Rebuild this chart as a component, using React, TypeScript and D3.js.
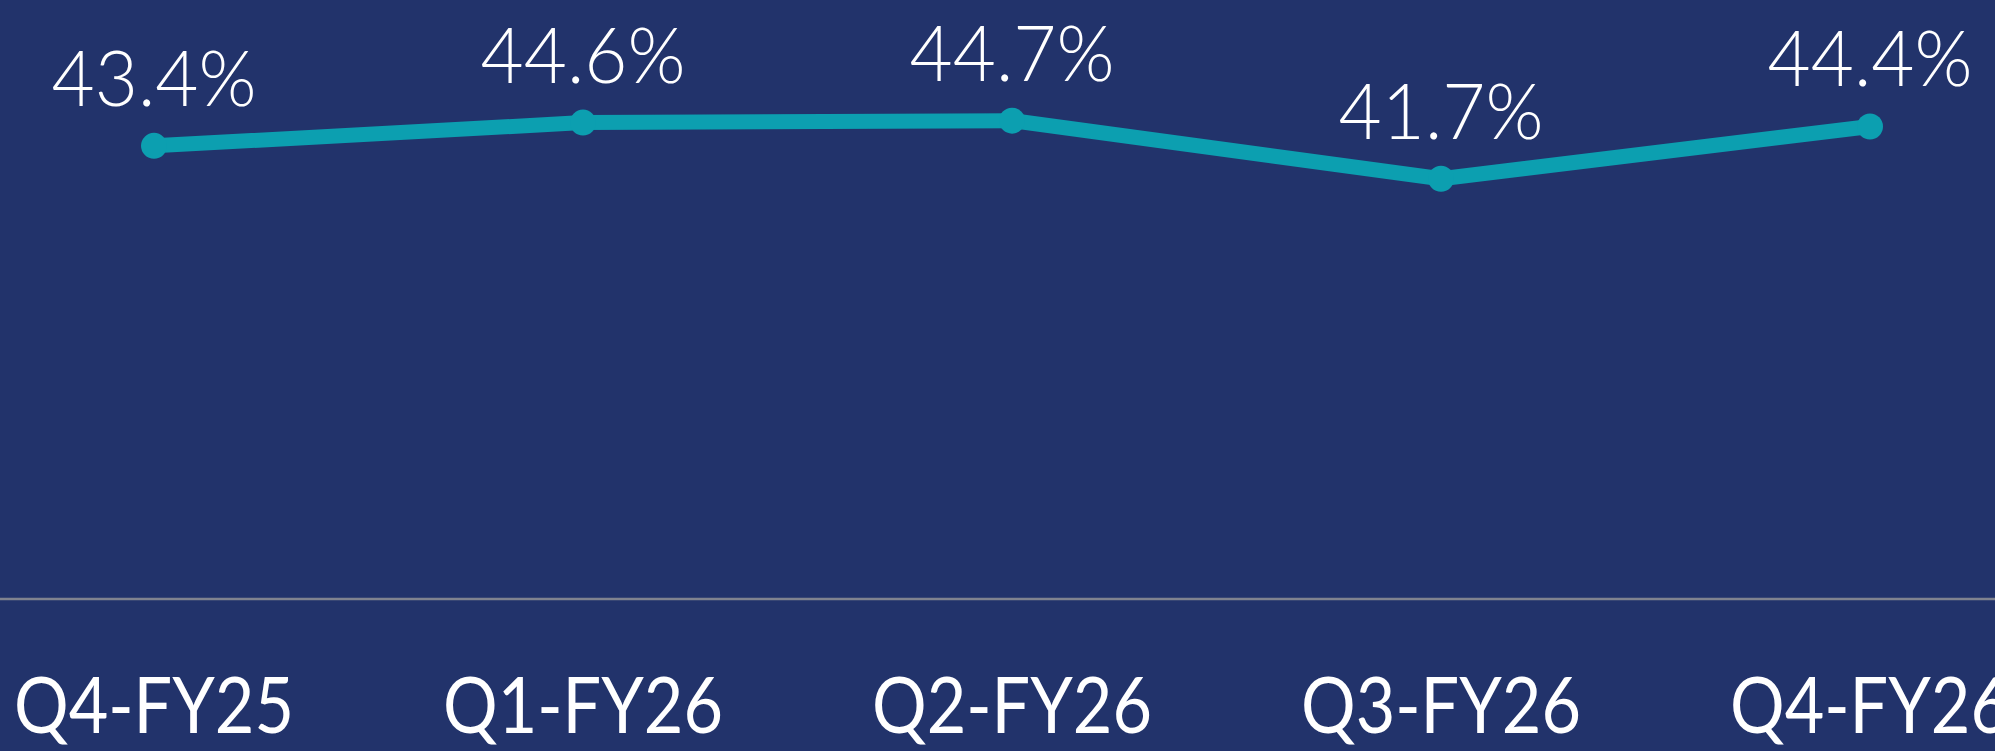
import React from "react";
import * as d3 from "d3";

const categories = ["Q4-FY25", "Q1-FY26", "Q2-FY26", "Q3-FY26", "Q4-FY26"];
const values = [43.4, 44.6, 44.7, 41.7, 44.4];
const yDomain = [20, 50];

const W = 1995;
const H = 751;
const BG = "#22336b";
const TEAL = "#0c9fb0";

export default function App() {
  const x = d3.scalePoint<string>().domain(categories).range([154, 1870]);
  const y = d3.scaleLinear().domain(yDomain).range([599, 18]);
  const data = categories.map((c, i) => ({ c, v: values[i] }));
  const line = d3
    .line<{ c: string; v: number }>()
    .x((d) => x(d.c) as number)
    .y((d) => y(d.v));
  const baseY = y(yDomain[0]);

  return (
    <>
      <style>{`body{margin:0;background:${BG};overflow:hidden}`}</style>
      <svg width={W} height={H} style={{ display: "block" }}>
        <rect x={0} y={0} width={W} height={H} fill={BG} />
        <line x1={0} x2={W} y1={baseY} y2={baseY} stroke="#80838f" strokeWidth={2.5} />
        <path d={line(data) || ""} fill="none" stroke={TEAL} strokeWidth={15} strokeLinejoin="round" />
        {data.map((d) => (
          <circle key={"m" + d.c} cx={x(d.c)} cy={y(d.v)} r={13} fill={TEAL} />
        ))}
        {data.map((d) => (
          <text
            key={"l" + d.c}
            x={x(d.c)}
            y={y(d.v) - 40}
            textAnchor="middle"
            fill="#ffffff"
            fontFamily="Lato, 'Open Sans', sans-serif"
            fontWeight={300}
            fontSize={77}
            textLength={205}
            lengthAdjust="spacingAndGlyphs"
          >
            {d.v.toFixed(1) + "%"}
          </text>
        ))}
        {categories.map((c) => (
          <text
            key={"a" + c}
            x={x(c)}
            y={733}
            textAnchor="middle"
            fill="#ffffff"
            fontFamily="Lato, 'Open Sans', sans-serif"
            fontWeight={400}
            fontSize={78}
            textLength={280}
            lengthAdjust="spacingAndGlyphs"
          >
            {c}
          </text>
        ))}
      </svg>
    </>
  );
}
